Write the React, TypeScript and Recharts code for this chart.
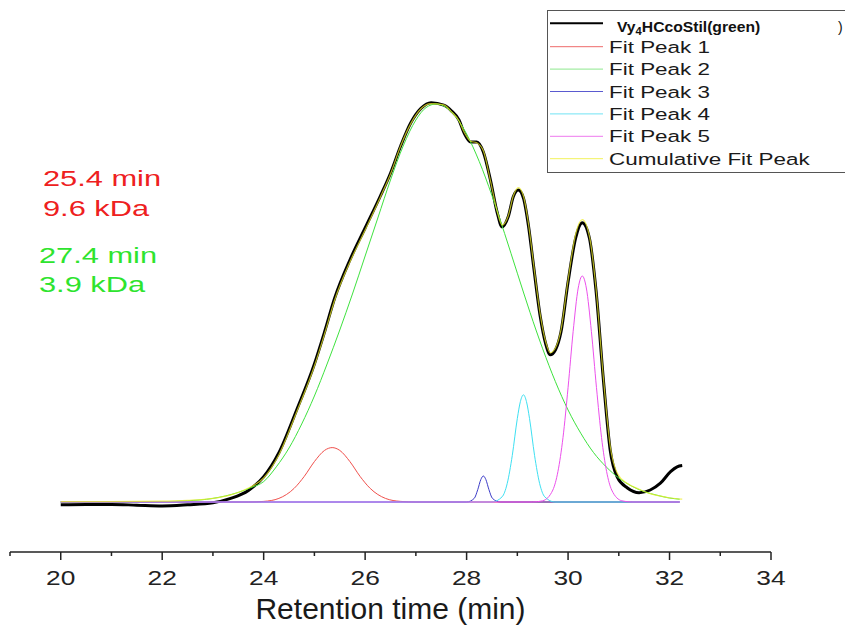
import React from "react";
import { LineChart, Line, XAxis, YAxis, Legend, Label } from "recharts";

// retention time (min) / detector signal
const dataT = [20, 20.5, 21, 21.5, 22, 22.5, 23, 23.35, 23.7, 24, 24.3, 24.65, 25, 25.2, 25.4, 25.7, 26, 26.3, 26.5, 26.7, 26.9, 27.1, 27.3, 27.55, 27.7, 27.85, 27.95, 28.08, 28.2, 28.33, 28.47, 28.6, 28.7, 28.82, 28.92, 29.02, 29.12, 29.22, 29.32, 29.45, 29.56, 29.65, 29.75, 29.86, 30.0, 30.15, 30.28, 30.42, 30.55, 30.7, 30.83, 30.97, 31.17, 31.4, 31.62, 31.82, 32.02, 32.15, 32.25];
const dataV = [-0.7, -0.6, -0.6, -0.8, -1.0, -0.7, -0.2, 0.9, 2.9, 6.3, 12.3, 23, 34.5, 42.5, 51, 60.5, 68.5, 76.5, 82.2, 89, 94.8, 98.4, 99.8, 99.2, 97.8, 95.5, 92.3, 90, 90, 87.5, 80.5, 72.5, 68.8, 71.3, 76.3, 78, 76, 69, 59, 46.5, 39.5, 36.8, 38, 42.5, 55, 66, 69.8, 66, 53, 30, 13, 6.2, 3.5, 2.3, 3, 4.7, 7.6, 8.8, 9.1];

const peak1T = [20, 23.7, 24.0, 24.3, 24.6, 24.8, 25.0, 25.2, 25.35, 25.5, 25.7, 25.9, 26.1, 26.4, 26.7, 27.0, 32.2];
const peak1V = [0, 0, 0.15, 0.9, 3.4, 6.4, 10.1, 12.9, 13.6, 12.9, 10.1, 6.4, 3.4, 0.9, 0.15, 0, 0];

const peak2T = [20, 21, 22, 22.5, 23, 23.5, 23.75, 24, 24.25, 24.5, 24.75, 25, 25.25, 25.5, 25.75, 26, 26.25, 26.5, 26.75, 27, 27.2, 27.4, 27.6, 27.8, 28, 28.25, 28.5, 28.75, 29, 29.25, 29.5, 29.75, 30, 30.25, 30.5, 30.75, 31, 31.25, 31.5, 31.75, 32, 32.2];
const peak2V = [0, 0, 0.1, 0.3, 0.9, 2.4, 3.6, 5.1, 8.8, 13.5, 19.5, 26.5, 34.5, 43, 52, 61.5, 71, 80.5, 89, 95.5, 98.6, 99.5, 98.6, 96.1, 92.0, 85.1, 76.6, 67.1, 57.2, 47.4, 38.3, 30.1, 23.0, 17.2, 12.4, 8.8, 6.0, 4.0, 2.6, 1.7, 1.0, 0.7];

const peak3T = [20, 28.0, 28.15, 28.22, 28.28, 28.33, 28.38, 28.44, 28.51, 28.66, 32.2];
const peak3V = [0, 0, 0.9, 3.1, 5.6, 6.5, 5.6, 3.1, 0.9, 0, 0];

const peak4T = [20, 28.5, 28.7, 28.8, 28.9, 29.0, 29.06, 29.12, 29.18, 29.24, 29.34, 29.44, 29.54, 29.74, 32.2];
const peak4V = [0, 0, 1.3, 4.6, 11.6, 20.9, 25.1, 26.8, 25.1, 20.9, 11.6, 4.6, 1.3, 0, 0];

const peak5T = [20, 29.3, 29.5, 29.7, 29.8, 29.9, 30.0, 30.1, 30.2, 30.28, 30.36, 30.46, 30.56, 30.66, 30.76, 30.86, 31.06, 31.26, 32.2];
const peak5V = [0, 0, 0.3, 3.0, 7.6, 16.1, 28.6, 42.6, 53.5, 56.5, 53.5, 42.6, 28.6, 16.1, 7.6, 3.0, 0.3, 0, 0];

const cumT = [20, 21, 22, 22.5, 23, 23.35, 23.7, 24, 24.3, 24.65, 25, 25.2, 25.4, 25.7, 26, 26.3, 26.5, 26.7, 26.9, 27.1, 27.3, 27.55, 27.7, 27.85, 27.95, 28.08, 28.2, 28.33, 28.47, 28.6, 28.7, 28.82, 28.92, 29.02, 29.12, 29.22, 29.32, 29.45, 29.56, 29.65, 29.75, 29.86, 30.0, 30.15, 30.28, 30.42, 30.55, 30.7, 30.83, 30.97, 31.17, 31.4, 31.62, 31.82, 32.02, 32.25];
const cumV = [0.1, 0.1, 0.2, 0.4, 0.9, 1.8, 3.5, 6.0, 11.8, 22.5, 34, 42, 50.5, 60, 68, 76.2, 82, 89, 94.6, 98.3, 99.6, 99.3, 97.6, 95.3, 92.5, 90.2, 89.8, 87.8, 80.3, 72.8, 69.2, 71.5, 76.5, 78.6, 76.5, 69.5, 59.5, 47, 40, 37.3, 38.5, 43, 55.5, 67, 70.6, 66.5, 53.5, 30.5, 14, 7.2, 4.6, 3.2, 2.1, 1.5, 1.0, 0.7];

const xTicks = [19, 20, 21, 22, 23, 24, 25, 26, 27, 28, 29, 30, 31, 32, 33, 34];

const rows = (t: number[], v: number[]) => t.map((x, i) => ({ t: x, v: v[i] }));

const FONT = "'Liberation Sans', Arial, sans-serif";

const fits = [
  { name: "Fit Peak 1", t: peak1T, v: peak1V, color: "#f0504c" },
  { name: "Fit Peak 2", t: peak2T, v: peak2V, color: "#3ee23e" },
  { name: "Fit Peak 3", t: peak3T, v: peak3V, color: "#3c3cc8" },
  { name: "Fit Peak 4", t: peak4T, v: peak4V, color: "#3ee0f2" },
  { name: "Fit Peak 5", t: peak5T, v: peak5V, color: "#ec50ec" },
];

const legendColors = ["#ee6a6a", "#8ee88e", "#5a5ad0", "#70e4f4", "#ee7aee", "#f2f25a"];
const legendNames = ["Fit Peak 1", "Fit Peak 2", "Fit Peak 3", "Fit Peak 4", "Fit Peak 5", "Cumulative Fit Peak"];

function AxisTick(props: any) {
  const { x, y, payload } = props;
  const major = payload.value % 2 === 0;
  return (
    <g>
      <line x1={x} x2={x} y1={y} y2={y + (major ? 8 : 4)} stroke="#222" strokeWidth={1.5} />
      {major && (
        <text
          transform={`translate(${x},${y + 33}) scale(1.35,1)`}
          textAnchor="middle"
          fontSize={19.5}
          fontFamily={FONT}
          fill="#222"
        >
          {payload.value}
        </text>
      )}
    </g>
  );
}

function LegendBox() {
  return (
    <svg width={298} height={164} style={{ display: "block" }}>
      <rect x={0.5} y={0.5} width={310} height={162} fill="#fff" stroke="#555" strokeWidth={1} />
      <line x1={3} x2={56} y1={13.3} y2={13.3} stroke="#000" strokeWidth={2} />
      <text
        transform="translate(70,21.7) scale(1.12,1)"
        fontSize={14}
        fontWeight="bold"
        fontFamily={FONT}
        fill="#111"
      >
        Vy<tspan fontSize={10} dy={3}>4</tspan>
        <tspan dy={-3}>HCcoStil(green)</tspan>
      </text>
      <text x={291} y={21.7} fontSize={14} fontFamily={FONT} fill="#111">
        )
      </text>
      {legendNames.map((n, i) => (
        <g key={n}>
          <line x1={3} x2={56} y1={36.7 + 22.4 * i} y2={36.7 + 22.4 * i} stroke={legendColors[i]} strokeWidth={1} />
          <text
            transform={`translate(62,${42.7 + 22.4 * i}) scale(1.32,1)`}
            fontSize={17}
            fontFamily={FONT}
            fill="#1a1a1a"
          >
            {n}
          </text>
        </g>
      ))}
    </svg>
  );
}

export default function App() {
  return (
    <div style={{ position: "absolute", left: 0, top: 0, width: 845, height: 628, overflow: "hidden", background: "#fff" }}>
      <LineChart width={845} height={628} margin={{ top: 22, right: 74, left: 10, bottom: 0 }}>
        <XAxis
          type="number"
          dataKey="t"
          domain={[19, 34]}
          ticks={xTicks}
          interval={0}
          allowDataOverflow
          height={76}
          tickSize={0}
          tickMargin={0}
          tickLine={false}
          axisLine={{ stroke: "#222", strokeWidth: 1.5 }}
          tick={<AxisTick />}
        >
          <Label
            content={({ viewBox }: any) => (
              <text
                x={viewBox.x + viewBox.width / 2}
                y={viewBox.y + 67}
                textAnchor="middle"
                fontSize={30}
                fontFamily={FONT}
                fill="#1a1a1a"
              >
                Retention time (min)
              </text>
            )}
          />
        </XAxis>
        <YAxis hide type="number" domain={[-12.5, 120]} allowDataOverflow />
        <Legend
          layout="vertical"
          align="center"
          verticalAlign="middle"
          width={298}
          height={164}
          wrapperStyle={{ left: 547, top: 10 }}
          content={() => <LegendBox />}
        />
        <Line
          data={rows(dataT, dataV)}
          dataKey="v"
          name="Vy4HCcoStil(green)"
          type="monotone"
          stroke="#000"
          strokeWidth={3}
          dot={false}
          activeDot={false}
          isAnimationActive={false}
        />
        {fits.map((f) => (
          <Line
            key={f.name}
            data={rows(f.t, f.v)}
            dataKey="v"
            name={f.name}
            type="monotone"
            stroke={f.color}
            strokeWidth={1}
            dot={false}
            activeDot={false}
            isAnimationActive={false}
          />
        ))}
        <Line
          data={rows(cumT, cumV)}
          dataKey="v"
          name="Cumulative Fit Peak"
          type="monotone"
          stroke="#eeee2a"
          strokeOpacity={0.75}
          strokeWidth={1.2}
          dot={false}
          activeDot={false}
          isAnimationActive={false}
        />
      </LineChart>
      <svg width={845} height={628} style={{ position: "absolute", left: 0, top: 0, pointerEvents: "none" }}>
        <g fontFamily={FONT} fontSize={22}>
          <text transform="translate(43,186) scale(1.4,1)" fill="#ee2020">25.4 min</text>
          <text transform="translate(43,215.7) scale(1.4,1)" fill="#ee2020">9.6 kDa</text>
          <text transform="translate(39,263.3) scale(1.4,1)" fill="#2ee42e">27.4 min</text>
          <text transform="translate(39,292.3) scale(1.4,1)" fill="#2ee42e">3.9 kDa</text>
        </g>
      </svg>
    </div>
  );
}
